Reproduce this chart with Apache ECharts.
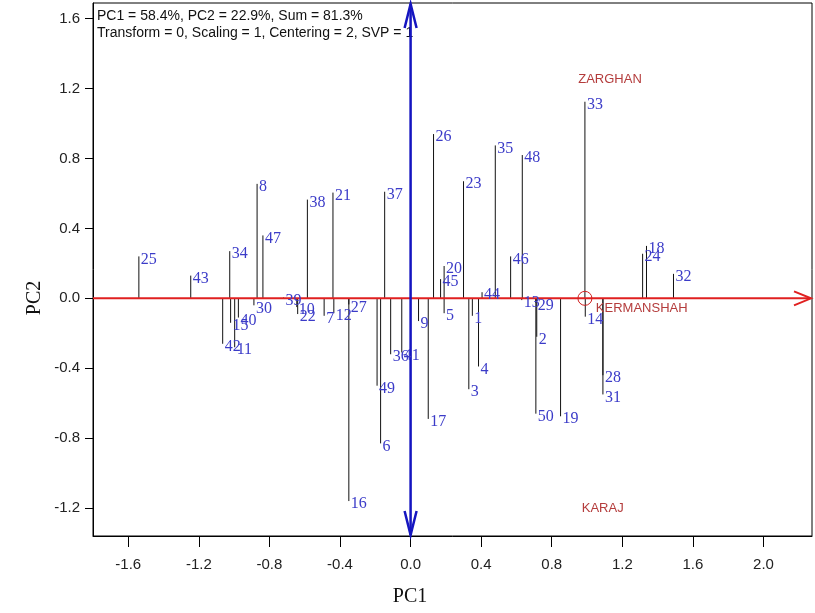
<!DOCTYPE html>
<html><head><meta charset="utf-8">
<script src="https://cdn.jsdelivr.net/npm/echarts@6/dist/echarts.min.js"></script>
<style>html,body{margin:0;padding:0;background:#fff}#c{width:815px;height:613px}</style>
</head><body><div id="c"></div>
<script>
// Genotype scores (PC1, PC2)
const genotypes = ['1','2','3','4','5','6','7','8','9','10','11','12','13','14','15','16','17','18','19','20','21','22','23','24','25','26','27','28','29','30','31','32','33','34','35','36','37','38','39','40','41','42','43','44','45','46','47','48','49','50'];
const pc1Scores = [0.35,0.715,0.33,0.385,0.19,-0.17,-0.49,-0.87,0.045,-0.645,-0.997,-0.435,0.63,0.99,-1.02,-0.35,0.10,1.337,0.85,0.19,-0.44,-0.64,0.30,1.315,-1.54,0.13,-0.35,1.09,0.71,-0.888,1.09,1.49,0.988,-1.025,0.48,-0.113,-0.147,-0.585,-0.72,-0.976,-0.05,-1.065,-1.246,0.405,0.17,0.567,-0.837,0.633,-0.19,0.71];
const pc2Scores = [-0.10,-0.22,-0.52,-0.39,-0.085,-0.83,-0.10,0.655,-0.13,-0.05,-0.28,-0.085,-0.01,-0.105,-0.14,-1.16,-0.69,0.30,-0.675,0.185,0.605,-0.09,0.67,0.255,0.24,0.94,-0.035,-0.44,-0.025,-0.04,-0.55,0.14,1.125,0.27,0.875,-0.32,0.61,0.565,0.005,-0.11,-0.31,-0.26,0.13,0.035,0.11,0.24,0.36,0.82,-0.50,-0.66];
// Environment label positions
const envNames = ['ZARGHAN','KERMANSHAH','KARAJ'];
const envPC1 = [0.95,1.05,0.97];
const envPC2 = [1.25,-0.057,-1.20];
// Average environment marker
const avePC1 = [0.988];
const avePC2 = [0];
// Ticks
const xTicks = [-1.6,-1.2,-0.8,-0.4,0,0.4,0.8,1.2,1.6,2.0];
const yTicks = [-1.2,-0.8,-0.4,0,0.4,0.8,1.2,1.6];
const infoLines = ['PC1 = 58.4%, PC2 = 22.9%, Sum = 81.3%','Transform = 0, Scaling = 1, Centering = 2, SVP = 1'];
const X_MIN = -1.8, X_MAX = 2.275, Y_MIN = -1.36, Y_MAX = 1.69;

const chart = echarts.init(document.getElementById('c'), null, {renderer:'canvas'});
const labelFont = '16px "Liberation Serif", "DejaVu Serif", serif';
const tickFont = {fontFamily:'"Liberation Sans", Arial, sans-serif', fontSize:15, color:'#222'};

const option = {
  animation:false,
  backgroundColor:'#fff',
  grid:{left:93, top:3, right:3, bottom:77, show:true, borderColor:'#000', borderWidth:1, containLabel:false},
  xAxis:{type:'value', min:X_MIN, max:X_MAX,
    axisLine:{show:true, onZero:false, lineStyle:{color:'#000'}},
    axisTick:{show:true, length:11, customValues:xTicks, lineStyle:{color:'#000'}},
    axisLabel:{customValues:xTicks, margin:21, formatter:v=>v.toFixed(1), ...tickFont},
    splitLine:{show:false}},
  yAxis:{type:'value', min:Y_MIN, max:Y_MAX,
    axisLine:{show:true, onZero:false, lineStyle:{color:'#000'}},
    axisTick:{show:true, length:8, customValues:yTicks, lineStyle:{color:'#000'}},
    axisLabel:{customValues:yTicks, margin:13, formatter:v=>v.toFixed(1), ...tickFont},
    splitLine:{show:false}},
  graphic:[
    {type:'text', left:97, top:9, style:{text:infoLines[0], font:'14px "Liberation Sans", Arial, sans-serif', fill:'#111'}},
    {type:'text', left:97, top:26, style:{text:infoLines[1], font:'14px "Liberation Sans", Arial, sans-serif', fill:'#111'}},
    {type:'text', x:410, y:597, style:{text:'PC1', font:'20px "Liberation Serif", serif', fill:'#111', align:'center', verticalAlign:'middle'}},
    {type:'text', x:35, y:298, rotation:Math.PI/2, style:{text:'PC2', font:'20px "Liberation Serif", serif', fill:'#111', align:'center', verticalAlign:'middle'}}
  ],
  series:[
    // projection lines
    {type:'custom', coordinateSystem:'cartesian2d', z:2, silent:true,
     data: genotypes.map((g,i)=>[pc1Scores[i], pc2Scores[i]]),
     renderItem:function(params, api){
       const x = api.value(0), y = api.value(1);
       const p = api.coord([x,y]), p0 = api.coord([x,0]);
       return {type:'line', shape:{x1:p[0], y1:p0[1], x2:p[0], y2:p[1]}, style:{stroke:'#111', lineWidth:1}};
     }},
    // red horizontal axis with arrow
    {type:'custom', coordinateSystem:'cartesian2d', z:3, silent:true,
     data:[[X_MIN,0,X_MAX]],
     renderItem:function(params, api){
       const a = api.coord([api.value(0), api.value(1)]);
       const b = api.coord([api.value(2), api.value(1)]);
       b[0] -= 1;
       return {type:'group', children:[
         {type:'line', shape:{x1:a[0], y1:a[1], x2:b[0], y2:b[1]}, style:{stroke:'#e02020', lineWidth:2}},
         {type:'polyline', shape:{points:[[b[0]-17,b[1]-7],[b[0],b[1]],[b[0]-17,b[1]+7]]}, style:{stroke:'#e02020', lineWidth:2, fill:null}}
       ]};
     }},
    // average environment circle
    {type:'custom', coordinateSystem:'cartesian2d', z:4, silent:true,
     data: avePC1.map((v,i)=>[v, avePC2[i]]),
     renderItem:function(params, api){
       const p = api.coord([api.value(0), api.value(1)]);
       return {type:'circle', shape:{cx:p[0], cy:p[1], r:7}, style:{stroke:'#d02020', lineWidth:1, fill:null}};
     }},
    // blue vertical axis with double arrow
    {type:'custom', coordinateSystem:'cartesian2d', z:5, silent:true,
     data:[[0,Y_MIN,Y_MAX]],
     renderItem:function(params, api){
       const a = api.coord([api.value(0), api.value(1)]);
       const b = api.coord([api.value(0), api.value(2)]);
       a[1] -= 1; b[1] += 1;
       return {type:'group', children:[
         {type:'line', shape:{x1:a[0], y1:a[1], x2:b[0], y2:b[1]}, style:{stroke:'#1515c0', lineWidth:2.5}},
         {type:'polyline', shape:{points:[[b[0]-6,b[1]+24],[b[0],b[1]],[b[0]+6,b[1]+24]]}, style:{stroke:'#1515c0', lineWidth:2.5, fill:null}},
         {type:'polyline', shape:{points:[[a[0]-6,a[1]-24],[a[0],a[1]],[a[0]+6,a[1]-24]]}, style:{stroke:'#1515c0', lineWidth:2.5, fill:null}}
       ]};
     }},
    // genotype labels
    {type:'custom', coordinateSystem:'cartesian2d', z:6, silent:true,
     data: genotypes.map((g,i)=>[pc1Scores[i], pc2Scores[i]]),
     renderItem:function(params, api){
       const p = api.coord([api.value(0), api.value(1)]);
       return {type:'text', x:p[0]+2, y:p[1]+3, style:{text:genotypes[params.dataIndex], font:labelFont, fill:'#3b3bc8', align:'left', verticalAlign:'middle'}};
     }},
    // environment labels
    {type:'custom', coordinateSystem:'cartesian2d', z:6, silent:true,
     data: envNames.map((n,i)=>[envPC1[i], envPC2[i]]),
     renderItem:function(params, api){
       const p = api.coord([api.value(0), api.value(1)]);
       return {type:'text', x:p[0], y:p[1], style:{text:envNames[params.dataIndex], font:'13px "Liberation Sans", Arial, sans-serif', fill:'#b43c3c', align:'left', verticalAlign:'middle'}};
     }}
  ]
};
chart.setOption(option);
</script>
</body></html>
